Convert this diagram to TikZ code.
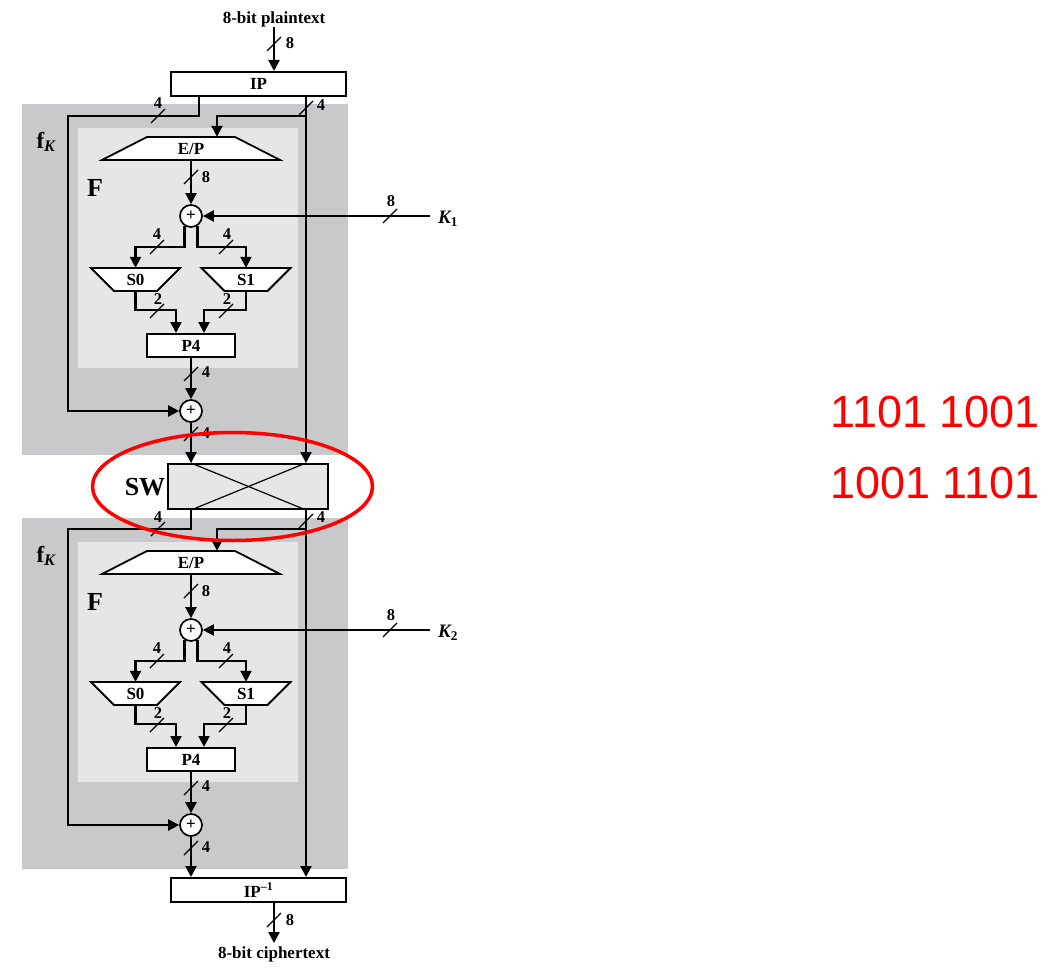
\documentclass[tikz,border=0pt]{standalone}
\usepackage{fontspec}
\setmainfont{Liberation Serif}
\newfontfamily\redfont{Liberation Sans}
\usetikzlibrary{arrows.meta,calc}
\definecolor{outerg}{HTML}{C8C9CB}
\definecolor{innerg}{HTML}{E6E6E6}
\tikzset{
 wire/.style={line width=2.2pt},
 arr/.style={wire,-{Triangle[length=11pt,width=11pt]}},
 busln/.style={line width=1.2pt},
 num/.style={font=\fontsize{16.5}{16.5}\selectfont\bfseries, inner sep=0pt},
 lbl/.style={font=\fontsize{17}{17}\selectfont\bfseries, inner sep=0pt},
 blk/.style={draw, line width=2pt, fill=white, inner sep=0pt, font=\fontsize{17}{17}\selectfont\bfseries},
 shp/.style={draw, line width=1.8pt, fill=white},
 xor/.style={circle, draw, line width=1.7pt, fill=white, minimum size=22pt, inner sep=0pt, font=\fontsize{17}{17}\selectfont\bfseries},
 big/.style={font=\fontsize{26}{26}\selectfont\bfseries, inner sep=0pt},
 redtxt/.style={font=\redfont\fontsize{45}{45}\selectfont, text=red, inner sep=0pt},
}
\newcommand\busmark[1]{\draw[busln] (#1) ++(-7,7) -- ++(14,-14);}
\begin{document}
\begin{tikzpicture}[x=1pt,y=-1pt]
\useasboundingbox (0,0) rectangle (1049,976);
\fill[white] (0,0) rectangle (1049,976);

% backgrounds and shapes of both rounds
\foreach \dy in {0,414}{
 \fill[outerg] (22,104+\dy) rectangle (348,455+\dy);
 \fill[innerg] (78,128+\dy) rectangle (298,368+\dy);
 \filldraw[shp] (102,160+\dy) -- (147,137+\dy) -- (235,137+\dy) -- (280,160+\dy) -- cycle;
 \filldraw[shp] (91,268+\dy) -- (180,268+\dy) -- (157,291+\dy) -- (114,291+\dy) -- cycle;
 \filldraw[shp] (201.5,268+\dy) -- (290.5,268+\dy) -- (267.5,291+\dy) -- (224.5,291+\dy) -- cycle;
}

% global nodes
\node[lbl] (pt) at (274,19) {8-bit plaintext};
\node[lbl] (ct) at (274,954) {8-bit ciphertext};
\node[blk, minimum width=175pt, minimum height=24pt] (ip) at (258.5,84) {IP};
\node[blk, fill=innerg, minimum width=160pt, minimum height=45pt] (sw) at (248,486.5) {};
\node[blk, minimum width=175pt, minimum height=24pt] (ipi) at (258.5,890) {IP\textsuperscript{--1}};
\node[big] (swl) at (145,487) {SW};
\draw[line width=1.2pt] ($(sw.north)+(-57,0)$) -- ($(sw.south)+(58,0)$);
\draw[line width=1.2pt] ($(sw.north)+(58,0)$) -- ($(sw.south)+(-57,0)$);

% rounds
\foreach \r/\dy in {1/0,2/414}{
 \node[font=\fontsize{23}{23}\selectfont\bfseries, inner sep=0pt] (fk\r) at (46,142+\dy) {f\textsubscript{\itshape K}};
 \node[big] (F\r) at (95,188+\dy) {F};
 \node[lbl, minimum width=87pt, minimum height=23pt] (ep\r) at (191,148.5+\dy) {E/P};
 \node[xor] (x1\r) at (191,216+\dy) {+};
 \node[lbl, minimum width=43pt, minimum height=23pt] (s0\r) at (135.5,279.5+\dy) {S0};
 \node[lbl, minimum width=43pt, minimum height=23pt] (s1\r) at (246,279.5+\dy) {S1};
 \node[blk, minimum width=88pt, minimum height=23pt] (p4\r) at (191,345.5+\dy) {P4};
 \node[xor] (x2\r) at (191,411+\dy) {+};
 \coordinate (kin\r) at (430,216+\dy);
 \node[font=\fontsize{19}{19}\selectfont\bfseries\itshape, inner sep=0pt] (k\r) at (448,219+\dy) {K\textsubscript{\upshape\r}};
 \draw[arr] (ep\r.south) -- (x1\r.north);
 \draw[arr] (kin\r) -- (x1\r.east);
 \draw[arr] (x1\r.-123) |- ($(s0\r.north)+(0,-21)$) -- (s0\r.north);
 \draw[arr] (x1\r.-57) |- ($(s1\r.north)+(0,-21)$) -- (s1\r.north);
 \draw[arr] (s0\r.south) |- ($(p4\r.north)+(-15,-23)$) -- ($(p4\r.north)+(-15,0)$);
 \draw[arr] (s1\r.south) |- ($(p4\r.north)+(13,-23)$) -- ($(p4\r.north)+(13,0)$);
 \draw[arr] (p4\r.south) -- (x2\r.north);
 \busmark{191,177+\dy} \node[num] at (206,177+\dy) {8};
 \busmark{390,216+\dy} \node[num] at (391,201+\dy) {8};
 \busmark{157,247+\dy} \node[num] at (157,234+\dy) {4};
 \busmark{226,247+\dy} \node[num] at (227,234+\dy) {4};
 \busmark{157,311+\dy} \node[num] at (158,299+\dy) {2};
 \busmark{226,311+\dy} \node[num] at (227,299+\dy) {2};
 \busmark{191,374+\dy} \node[num] at (206,372+\dy) {4};
 \busmark{191,434+\dy} \node[num] at (206,433+\dy) {4};
}

% connectors between stages
\coordinate (lt1) at (68,116);
\coordinate (br1) at (306,116);
\coordinate (lt2) at (68,529);
\coordinate (br2) at (306,529);
\draw[arr] (pt.south) -- (pt.south |- ip.north);
\draw[arr] ($(ip.south)+(-59.5,0)$) |- (lt1) |- (x21.west);
\draw[arr] ($(ip.south)+(47.5,0)$) -- ($(sw.north)+(58,0)$);
\draw[arr] (br1) -| ($(ep1.north)+(26,0)$);
\draw[arr] (x21.south) -- (x21.south |- sw.north);
\draw[arr] ($(sw.south)+(-57,0)$) |- (lt2) |- (x22.west);
\draw[arr] ($(sw.south)+(58,0)$) -- ($(ipi.north)+(47.5,0)$);
\draw[arr] (br2) -| ($(ep2.north)+(26,0)$);
\draw[arr] (x22.south) -- (x22.south |- ipi.north);
\draw[arr] ($(ipi.south)+(15.5,0)$) -- ($(ct.north)+(0,-3)$);

\busmark{274,44} \node[num] at (290,43) {8};
\busmark{158,116} \node[num] at (158,103) {4};
\busmark{306,108} \node[num] at (321,105) {4};
\busmark{158,529} \node[num] at (158,517) {4};
\busmark{306,521} \node[num] at (321,517) {4};
\busmark{274,920} \node[num] at (290,920) {8};

% annotation
\draw[red, line width=3.5pt] (232.5,486.5) ellipse [x radius=140, y radius=54];
\node[redtxt, anchor=base] (r1) at (935,427) {1101 1001};
\node[redtxt, anchor=base] (r2) at (935,498) {1001 1101};
\end{tikzpicture}
\end{document}
